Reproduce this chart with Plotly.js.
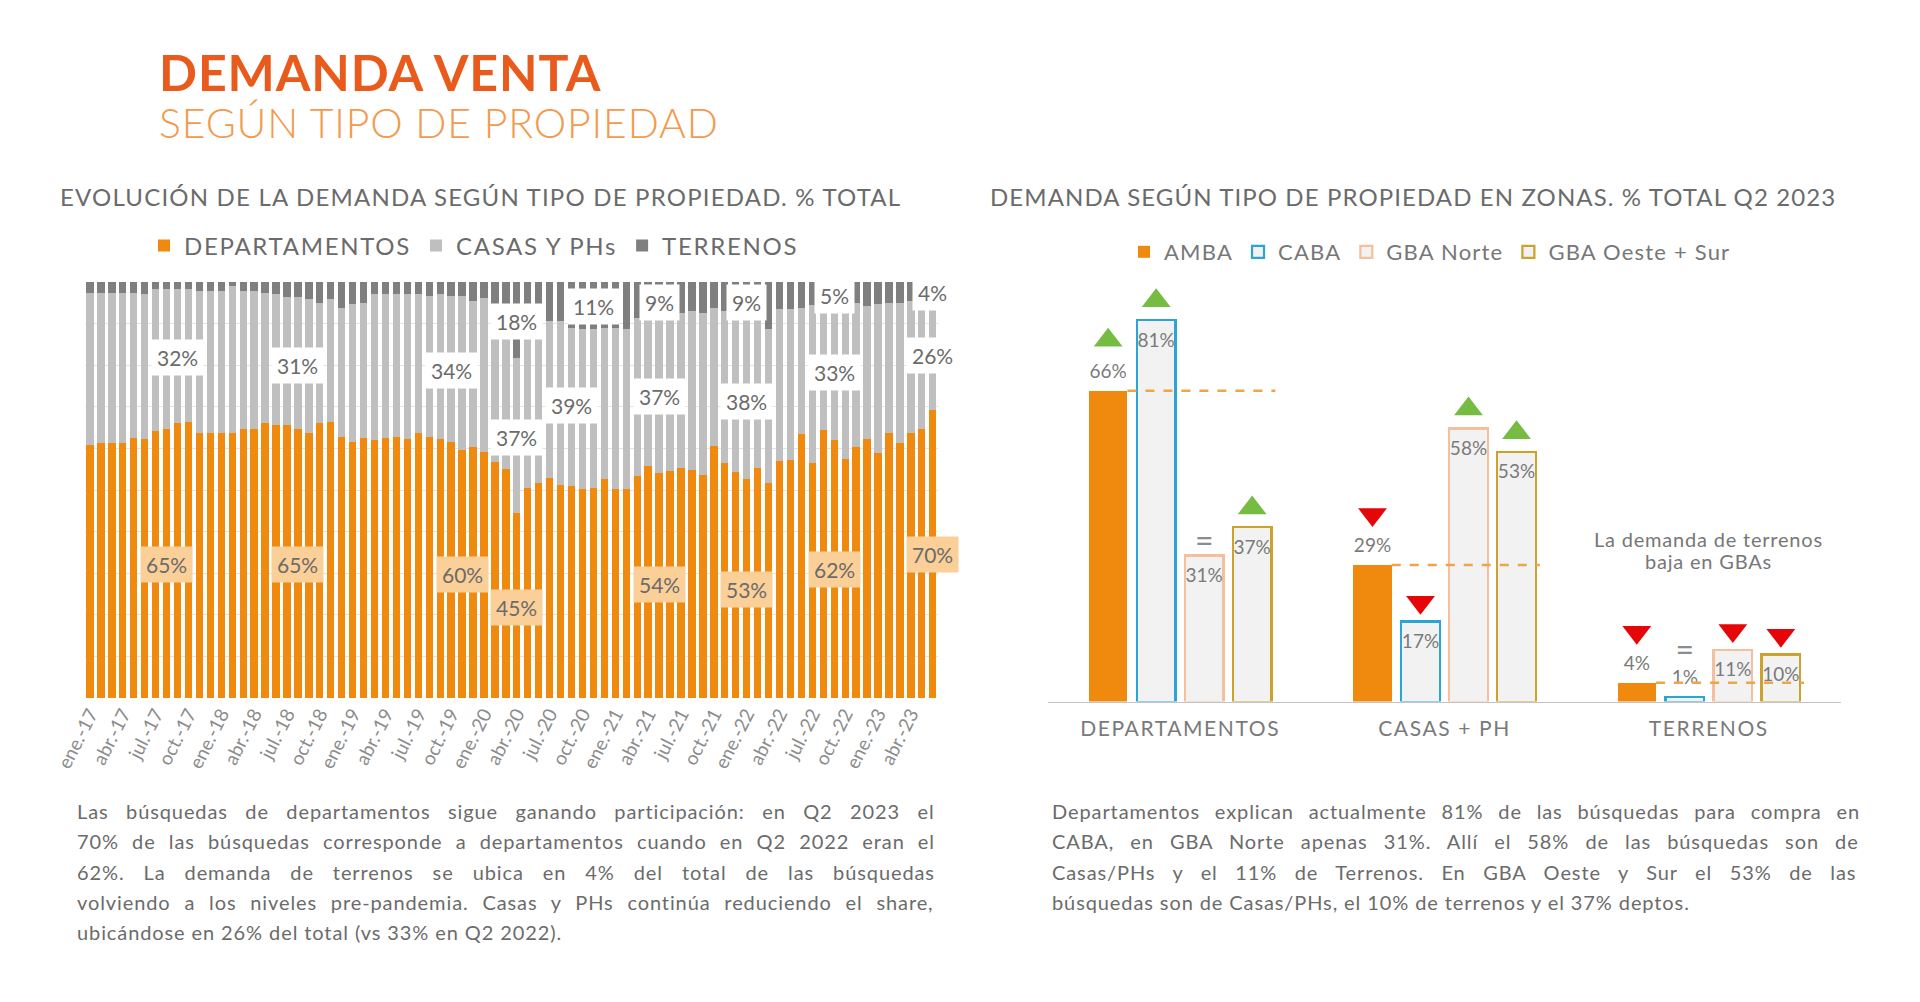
<!DOCTYPE html>
<html>
<head>
<meta charset="utf-8">
<script src="https://cdn.plot.ly/plotly-3.0.1.min.js"></script>
<style>
html,body{margin:0;padding:0;background:#ffffff;}
#chart{width:1920px;height:1002px;}
</style>
</head>
<body>
<div id="chart"></div>
<script>
// ---------------- DATA: left chart (monthly share, % of total) ----------------
const months = [
"ene.-17","feb.-17","mar.-17","abr.-17","may.-17","jun.-17","jul.-17","ago.-17","sept.-17","oct.-17","nov.-17","dic.-17",
"ene.-18","feb.-18","mar.-18","abr.-18","may.-18","jun.-18","jul.-18","ago.-18","sept.-18","oct.-18","nov.-18","dic.-18",
"ene.-19","feb.-19","mar.-19","abr.-19","may.-19","jun.-19","jul.-19","ago.-19","sept.-19","oct.-19","nov.-19","dic.-19",
"ene.-20","feb.-20","mar.-20","abr.-20","may.-20","jun.-20","jul.-20","ago.-20","sept.-20","oct.-20","nov.-20","dic.-20",
"ene.-21","feb.-21","mar.-21","abr.-21","may.-21","jun.-21","jul.-21","ago.-21","sept.-21","oct.-21","nov.-21","dic.-21",
"ene.-22","feb.-22","mar.-22","abr.-22","may.-22","jun.-22","jul.-22","ago.-22","sept.-22","oct.-22","nov.-22","dic.-22",
"ene.-23","feb.-23","mar.-23","abr.-23","may.-23","jun.-23"
];
const tickLabels = [
"ene.-17","abr.-17","jul.-17","oct.-17","ene.-18","abr.-18","jul.-18","oct.-18",
"ene.-19","abr.-19","jul.-19","oct.-19","ene.-20","abr.-20","jul.-20","oct.-20",
"ene.-21","abr.-21","jul.-21","oct.-21","ene.-22","abr.-22","jul.-22","oct.-22",
"ene.-23","abr.-23"
];
const deptos = [
60.8,61.4,61.4,61.4,62.6,62.2, 64.2,64.7,66.2,66.4,63.8,63.8,
63.8,63.6,64.7,64.7,66.0,65.6, 65.6,64.6,63.8,66.2,66.4,62.8,
61.6,62.4,62.0,62.4,62.8,62.2, 63.8,62.8,62.2,61.6,59.6,60.4,
59.2,56.8,55.0,44.4,50.4,51.6, 52.8,51.2,51.0,50.2,50.4,52.6,
50.2,50.2,53.4,55.8,54.2,54.6, 55.4,54.8,53.6,60.6,56.4,54.4,
52.6,55.4,51.6,57.0,57.2,63.4, 56.6,64.4,62.0,57.4,60.4,62.2,
59.0,63.8,61.2,63.8,64.6,69.2
];
const casas = [
36.6,36.0,36.0,36.0,34.8,34.8, 34.0,33.6,32.1,31.8,34.0,34.0,
34.0,35.4,33.1,33.1,31.4,31.4, 30.7,31.7,32.0,28.8,29.4,31.0,
33.0,32.6,35.1,34.7,34.2,34.8, 33.2,33.8,34.8,35.0,37.0,35.0,
37.0,37.9,39.7,37.2,39.6,38.9, 37.8,39.4,38.0,38.4,38.2,36.4,
38.8,38.4,37.8,35.6,37.2,37.0, 37.0,38.2,39.0,33.2,36.6,36.6,
38.4,35.6,37.0,36.4,36.2,30.4, 37.8,30.6,33.0,37.6,34.6,32.0,
35.6,31.2,33.8,31.6,31.0,26.8
];
const terrenos = [
2.6,2.6,2.6,2.6,2.6,3.0, 1.8,1.7,1.7,1.8,2.2,2.2,
2.2,1.0,2.2,2.2,2.6,3.0, 3.7,3.7,4.2,5.0,4.2,6.2,
5.4,5.0,2.9,2.9,3.0,3.0, 3.0,3.4,3.0,3.4,3.4,4.6,
3.8,5.3,5.3,18.4,10.0,9.5, 9.4,9.4,11.0,11.4,11.4,11.0,
11.0,11.4,8.8,8.6,8.6,8.4, 7.6,7.0,7.4,6.2,7.0,9.0,
9.0,9.0,11.4,6.6,6.6,6.2, 5.6,5.0,5.0,5.0,5.0,5.8,
5.4,5.0,5.0,4.6,4.4,4.0
];
// period summary labels drawn over the left chart
const sumText  = ["32%","31%","34%","18%","37%","65%","65%","60%","45%","11%","39%","9%","37%","54%","9%","38%","53%","5%","33%","62%","4%","26%","70%"];
const sumMonth = ["sept.-17","ago.-18","oct.-19","abr.-20","abr.-20","ago.-17","ago.-18","nov.-19","abr.-20","nov.-20","sept.-20","may.-21","may.-21","may.-21","ene.-22","ene.-22","ene.-22","sept.-22","sept.-22","sept.-22","jun.-23","jun.-23","jun.-23"];
const sumLevel = [81.7,80,78.8,90.4,62.7,32,32,29.6,21.7,94,70.4,95.1,72.4,27.2,95.1,71.2,26,96.8,78.1,30.8,97.5,82.4,34.4];
const sumKind  = ["w","w","w","w","w","o","o","o","o","w","w","w","w","o","w","w","o","w","w","o","w","w","o"];

// ---------------- DATA: right chart (Q2 2023, % of total by zone) ----------------
const zoneCats = ["DEPARTAMENTOS","CASAS + PH","TERRENOS"];
const zones = ["AMBA","CABA","GBA Norte","GBA Oeste + Sur"];
const amba        = [66,29,4];
const caba        = [81,17,1];
const gbaNorte    = [31,58,11];
const gbaOesteSur = [37,53,10];
const trendAmba     = ["up","down","down"];
const trendCaba     = ["up","down","eq"];
const trendNorte    = ["eq","up","down"];
const trendOesteSur = ["up","up","down"];

// ---------------- helpers / styles ----------------
const W = 1920, H = 1002;
const px = v => v / W;
const py = v => 1 - v / H;
const ORANGE = '#EF8A0E';
const TXT = '#6b6b6b';
const FONT = 'Lato, "Open Sans", "Noto Sans", sans-serif';

const mctx = document.createElement('canvas').getContext('2d');
function textWidth(t, weight, size) {
  mctx.font = weight + ' ' + size + 'px Lato, "Open Sans", sans-serif';
  return mctx.measureText(t).width;
}
function spanTo(t, weight, size, target) {
  const ls = (target - textWidth(t, weight, size)) / Math.max(1, t.length - 1);
  return '<span style="letter-spacing:' + ls.toFixed(2) + 'px">' + t + '</span>';
}
function justify(t, size, target, ls, last) {
  const natural = textWidth(t, 400, size) + ls * (t.length - 1);
  const spaces = (t.match(/ /g) || []).length;
  const ws = (last || !spaces) ? 0 : Math.max(0, (target - natural) / spaces);
  return '<span style="letter-spacing:' + ls + 'px;word-spacing:' + ws.toFixed(2) + 'px">' + t + '</span>';
}
const spaced = (t, ls) => '<span style="letter-spacing:' + ls + 'px">' + t + '</span>';

const traces = [];
// left stacked bars
traces.push({type:'bar', name:spaced('DEPARTAMENTOS',1.7), x:months, y:deptos, marker:{color:ORANGE}, xaxis:'x', yaxis:'y', legend:'legend', hoverinfo:'skip'});
traces.push({type:'bar', name:spaced('CASAS Y PHs',1.7), x:months, y:casas, marker:{color:'#BFBFBF'}, xaxis:'x', yaxis:'y', legend:'legend', hoverinfo:'skip'});
traces.push({type:'bar', name:spaced('TERRENOS',1.7), x:months, y:terrenos, marker:{color:'#7F7F7F'}, xaxis:'x', yaxis:'y', legend:'legend', hoverinfo:'skip'});

// right grouped bars (positions derived from category / series index)
const zoneVals = [amba, caba, gbaNorte, gbaOesteSur];
const zoneTrends = [trendAmba, trendCaba, trendNorte, trendOesteSur];
const zoneStyle = [
  {fill:ORANGE, line:ORANGE, lw:0},
  {fill:'#F2F2F2', line:'#2BA6D4', lw:2.2},
  {fill:'#F2F2F2', line:'#F3C09E', lw:2.2},
  {fill:'#F2F2F2', line:'#CBA22C', lw:2.2}
];
const PITCH = 0.1816, BW = 0.1457;
const catIdx = zoneCats.map((c,i) => i);
const barX = (c, s) => c + (s - 1.5) * PITCH;
const isOutside = (s, v) => s === 0 || v < 5;

zoneVals.forEach((vals, s) => {
  traces.push({
    type:'bar', name:spaced(zones[s],1.2), legend:'legend2', xaxis:'x2', yaxis:'y2',
    x: catIdx.map(c => barX(c, s)), y: vals, width: BW,
    marker:{color:zoneStyle[s].fill, line:{color:zoneStyle[s].line, width:zoneStyle[s].lw}},
    hoverinfo:'skip'
  });
});

// value labels (above the bar when outside, just below the top when inside)
const lbX = [], lbY = [], lbT = [];
zoneVals.forEach((vals, s) => {
  vals.forEach((v, c) => {
    lbX.push(barX(c, s));
    lbY.push(v + (isOutside(s, v) ? 3.8 : -4.6));
    lbT.push(v + '%');
  });
});
traces.push({type:'scatter', mode:'text', x:lbX, y:lbY, text:lbT, xaxis:'x2', yaxis:'y2', showlegend:false, cliponaxis:false,
  textposition:'middle center', textfont:{size:19, color:'#7a7a7a', family:FONT}, hoverinfo:'skip'});

// dashed AMBA reference lines
const dX = [], dY = [];
catIdx.forEach(c => {
  dX.push(barX(c,0) + BW/2, barX(c,3) + BW/2 + 0.015, null);
  dY.push(amba[c], amba[c], null);
});
traces.push({type:'scatter', mode:'lines', x:dX, y:dY, xaxis:'x2', yaxis:'y2', showlegend:false,
  line:{color:'#EEA54A', width:2.5, dash:'dash'}, hoverinfo:'skip', cliponaxis:false});

// trend markers
const upX=[],upY=[],dnX=[],dnY=[],eqX=[],eqY=[];
zoneVals.forEach((vals, s) => {
  vals.forEach((v, c) => {
    const out = isOutside(s, v);
    const t = zoneTrends[s][c];
    if (t === 'up') { upX.push(barX(c,s)); upY.push(v + (out ? 10.7 : 4.1)); }
    else if (t === 'down') { dnX.push(barX(c,s)); dnY.push(v + (out ? 10.7 : 4.1)); }
    else { eqX.push(barX(c,s)); eqY.push(v + (out ? 9.4 : 2.5)); }
  });
});
traces.push({type:'scatter', mode:'markers', x:upX, y:upY, xaxis:'x2', yaxis:'y2', showlegend:false, cliponaxis:false,
  marker:{symbol:'triangle-up', size:25, color:'#76BC43'}, hoverinfo:'skip'});
traces.push({type:'scatter', mode:'markers', x:dnX, y:dnY, xaxis:'x2', yaxis:'y2', showlegend:false, cliponaxis:false,
  marker:{symbol:'triangle-down', size:25, color:'#E5060A'}, hoverinfo:'skip'});
traces.push({type:'scatter', mode:'text', x:eqX, y:eqY, text:eqX.map(() => '='), xaxis:'x2', yaxis:'y2', showlegend:false, cliponaxis:false,
  textposition:'middle center', textfont:{size:32, color:'#8c8c8c', family:FONT}, hoverinfo:'skip'});

// ---------------- annotations ----------------
const ann = [];
const txt = (text, x, y, font) => ({
  text, x:px(x), y:py(y), xref:'paper', yref:'paper', xanchor:'left', yanchor:'middle',
  showarrow:false, align:'left', font:Object.assign({family:FONT}, font)
});

ann.push(txt(spanTo('DEMANDA VENTA', 700, 50, 445), 157, 72, {size:50, color:'#E95A1D', weight:700}));
ann.push(txt(spanTo('SEGÚN TIPO DE PROPIEDAD', 300, 41, 560), 157, 122, {size:41, color:'#F29A4E', weight:300}));
ann.push(txt(spanTo('EVOLUCIÓN DE LA DEMANDA SEGÚN TIPO DE PROPIEDAD. % TOTAL', 400, 24, 843), 58, 197, {size:24, color:TXT}));
ann.push(txt(spanTo('DEMANDA SEGÚN TIPO DE PROPIEDAD EN ZONAS. % TOTAL Q2 2023', 400, 24, 848), 988, 197, {size:24, color:TXT}));

const leftPara = [
  'Las búsquedas de departamentos sigue ganando participación: en Q2 2023 el',
  '70% de las búsquedas corresponde a departamentos cuando en Q2 2022 eran el',
  '62%. La demanda de terrenos se ubica en 4% del total de las búsquedas',
  'volviendo a los niveles pre-pandemia. Casas y PHs continúa reduciendo el share,',
  'ubicándose en 26% del total (vs 33% en Q2 2022).'
];
const rightPara = [
  'Departamentos explican actualmente 81% de las búsquedas para compra en',
  'CABA, en GBA Norte apenas 31%. Allí el 58% de las búsquedas son de',
  'Casas/PHs y el 11% de Terrenos. En GBA Oeste y Sur el 53% de las',
  'búsquedas son de Casas/PHs, el 10% de terrenos y el 37% deptos.'
];
leftPara.forEach((l, i) => ann.push(txt(justify(l, 20, 857, 0.9, i === leftPara.length - 1), 75, 811 + i * 30.3, {size:20, color:TXT})));
rightPara.forEach((l, i) => ann.push(txt(justify(l, 20, 807, 0.9, i === rightPara.length - 1), 1050, 811 + i * 30.3, {size:20, color:TXT})));

// summary labels on left chart
sumText.forEach((t, i) => {
  ann.push({
    text:t, x:sumMonth[i], y:sumLevel[i], xref:'x', yref:'y', showarrow:false,
    xanchor:'center', yanchor:'middle',
    bgcolor: sumKind[i] === 'o' ? '#FBCF98' : '#FFFFFF', borderpad:5,
    font:{family:FONT, size:21, color:TXT}
  });
});

// note on right chart
const noteLines = ['La demanda de terrenos', 'baja en GBAs'];
noteLines.forEach((l, i) => ann.push({text:spaced(l,0.8), x:barX(2,1.5), y:34.5 - i * 4.6, xref:'x2', yref:'y2', showarrow:false,
  xanchor:'center', yanchor:'middle', align:'center', font:{family:FONT, size:20, color:'#777777'}}));

const layout = {
  width:W, height:H, margin:{l:0, r:0, t:0, b:0}, autosize:false,
  paper_bgcolor:'#FFFFFF', plot_bgcolor:'rgba(0,0,0,0)',
  font:{family:FONT, color:TXT},
  barmode:'stack', bargap:0.33,
  showlegend:true, hovermode:false,
  xaxis:{domain:[px(84.5), px(938.2)], anchor:'y', type:'category', categoryorder:'array', categoryarray:months,
    range:[-0.5, months.length - 0.5], tickmode:'array',
    tickvals:tickLabels, ticktext:tickLabels, tickangle:-63,
    tickfont:{family:FONT, size:19, color:'#8c8c8c'}, ticks:'', showgrid:false, zeroline:false, showline:false},
  yaxis:{domain:[py(698.3), py(281.7)], anchor:'x', range:[0,100], dtick:10, showgrid:true,
    gridcolor:'#E3E3E3', gridwidth:1, showticklabels:false, zeroline:false, ticks:''},
  xaxis2:{domain:[px(1048), px(1841)], anchor:'y2', range:[-0.5,2.5], tickmode:'array',
    tickvals:catIdx, ticktext:zoneCats.map(c => spaced(c,1.6)), showline:true, linecolor:'#C4C4C4', linewidth:1.5,
    showgrid:false, zeroline:false, ticks:'', ticklabelstandoff:8, tickfont:{family:FONT, size:21, color:'#7a7a7a'}},
  yaxis2:{domain:[py(701.6), py(230.6)], anchor:'x2', range:[0,100], visible:false},
  legend:{orientation:'h', x:px(144), y:py(246), xanchor:'left', yanchor:'middle',
    font:{family:FONT, size:24, color:TXT}, bgcolor:'rgba(0,0,0,0)', traceorder:'normal'},
  legend2:{orientation:'h', x:px(1124), y:py(252), xanchor:'left', yanchor:'middle',
    font:{family:FONT, size:22, color:'#777777'}, bgcolor:'rgba(0,0,0,0)', traceorder:'normal'},
  annotations:ann
};

Plotly.newPlot('chart', traces, layout, {staticPlot:true, displayModeBar:false});
</script>
</body>
</html>
